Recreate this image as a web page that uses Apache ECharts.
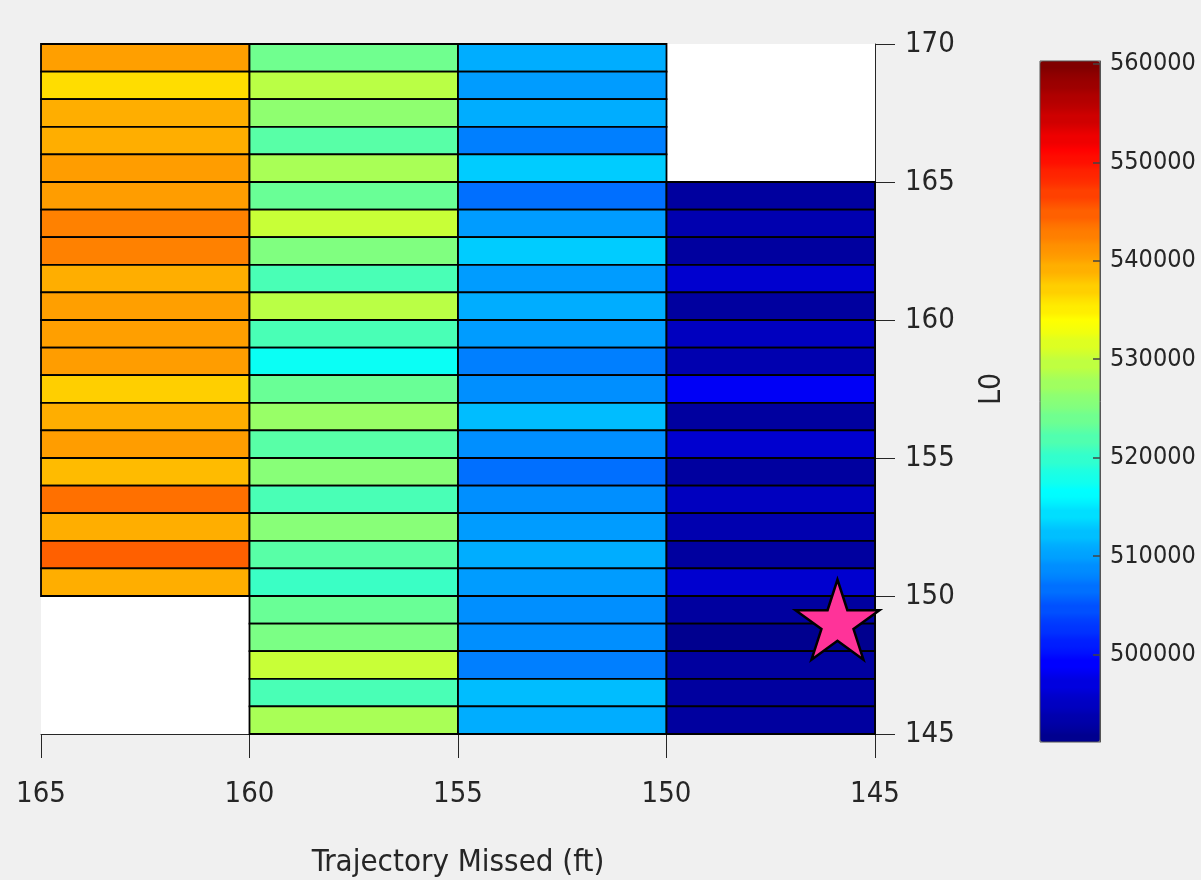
<!DOCTYPE html>
<html><head><meta charset="utf-8">
<script src="https://cdn.jsdelivr.net/npm/echarts@6/dist/echarts.min.js"></script>
<style>html,body{margin:0;padding:0;background:#f0f0f0;} #chart{width:1201px;height:880px;}</style>
</head><body><div id="chart"></div>
<script>
// ---- data ----
const xTicks = [165, 160, 155, 150, 145];          // Trajectory Missed (ft)
const yTicks = [145, 150, 155, 160, 165, 170];     // L0
const colorbarTicks = [500000, 510000, 520000, 530000, 540000, 550000, 560000];
const colorRange = [491100, 560300];
// column x-extents (ft)
const columns = [[165, 160], [160, 155], [155, 150], [150, 145]];
// top L0 of each column (cells are 1 unit tall, listed top to bottom)
const columnTop = [170, 170, 170, 165];
const col165_160 = [540400, 536450, 539700, 539700, 540800, 540800, 542100, 542100, 539700, 540400,
                    540400, 540800, 537500, 539700, 540800, 538650, 543500, 539700, 544400, 539700];
const col160_155 = [523970, 529000, 526570, 522450, 527900, 523550, 530060, 525470, 521370, 529000,
                    521370, 517050, 523550, 526800, 522450, 525700, 521370, 525700, 522450, 520300,
                    523550, 524660, 530060, 521370, 527900];
const col155_150 = [510600, 509500, 510600, 507360, 512760, 506280, 509500, 512760, 509500, 510600,
                    509500, 507360, 508960, 511690, 508960, 506280, 508960, 509500, 510600, 509500,
                    508960, 508960, 507360, 511690, 510600];
const col150_145 = [492220, 493300, 492220, 495460, 492220, 494390, 493300, 498550, 492220, 495460,
                    492220, 494390, 493300, 492900, 495460, 492220, 491800, 492220, 492700, 492220];
const columnValues = [col165_160, col160_155, col155_150, col150_145];
const starPoint = [[145.9, 149]];

// ---- jet colormap (MATLAB jet(64)) ----
function jet(n) {
  const m = Math.ceil(n / 4);
  const u = [];
  for (let i = 1; i <= m; i++) u.push(i / m);
  for (let i = 1; i < m; i++) u.push(1);
  for (let i = m; i >= 1; i--) u.push(i / m);
  const J = Array.from({length: n}, () => [0, 0, 0]);
  const g0 = Math.ceil(n / 8) - (n % 4 === 1 ? 1 : 0);
  const g = [], r = [], b = [];
  for (let k = 1; k <= u.length; k++) {
    const gi = g0 + k;
    if (gi <= n) g.push(gi);
    if (gi + n / 4 <= n) r.push(gi + n / 4);
    if (gi - n / 4 >= 1) b.push(gi - n / 4);
  }
  r.forEach((ri, i) => J[ri - 1][0] = u[i]);
  g.forEach((gi, i) => J[gi - 1][1] = u[i]);
  b.forEach((bi, i) => J[bi - 1][2] = u[u.length - b.length + i]);
  return J.map(c => 'rgb(' + c.map(v => Math.round(v * 255)).join(',') + ')');
}
const jetColors = [];
jet(64).forEach(c => { for (let k = 0; k < 4; k++) jetColors.push(c); });

// build cells [xLeft, xRight, yLow, yHigh, value]
const cells = [];
columns.forEach((col, ci) => {
  columnValues[ci].forEach((v, ri) => {
    const top = columnTop[ci] - ri;
    cells.push([col[0], col[1], top - 1, top, v]);
  });
});

const FONT = "'Liberation Sans Narrow','Arial Narrow','DejaVu Sans Condensed',sans-serif";
const AX = '#262626';
const STAR = 'path://M50 0 L61.23 34.55 L97.55 34.55 L68.17 55.9 L79.39 90.45 L50 69.1 L20.61 90.45 L31.83 55.9 L2.45 34.55 L38.77 34.55 Z';

const chart = echarts.init(document.getElementById('chart'));
chart.setOption({
  backgroundColor: '#f0f0f0',
  animation: false,
  grid: [
    {left: 41, top: 44, width: 834, height: 690, show: true, backgroundColor: '#ffffff', borderWidth: 0,
     containLabel: false, outerBoundsMode: 'none'},
    {left: 1040, top: 61, width: 60, height: 681, show: true, backgroundColor: 'transparent',
     borderColor: '#555', borderWidth: 1, z: 10, containLabel: false, outerBoundsMode: 'none'}
  ],
  xAxis: [
    {type: 'value', gridIndex: 0, min: 145, max: 165, interval: 5, inverse: true,
     axisLine: {show: true, onZero: false, lineStyle: {color: AX, width: 1}},
     axisTick: {show: true, inside: false, length: 24, lineStyle: {color: AX}},
     axisLabel: {fontSize: 29, fontFamily: FONT, color: AX, margin: 46},
     splitLine: {show: false},
     name: 'Trajectory Missed (ft)', nameLocation: 'middle', nameGap: 113,
     nameTextStyle: {fontSize: 31, fontFamily: FONT, color: AX}},
    {type: 'value', gridIndex: 1, min: 0, max: 1, show: false}
  ],
  yAxis: [
    {type: 'value', gridIndex: 0, position: 'right', min: 145, max: 170, interval: 5,
     axisLine: {show: true, onZero: false, lineStyle: {color: AX, width: 1}},
     axisTick: {show: true, inside: false, length: 20, lineStyle: {color: AX}},
     axisLabel: {fontSize: 29, fontFamily: FONT, color: AX, margin: 30},
     splitLine: {show: false},
     name: 'L0', nameLocation: 'middle', nameRotate: 90, nameGap: 102,
     nameTextStyle: {fontSize: 30, fontFamily: FONT, color: AX}},
    {type: 'value', gridIndex: 1, position: 'right', min: colorRange[0], max: colorRange[1], z: 10,
     axisLine: {show: true, onZero: false, lineStyle: {color: '#555', width: 1}},
     axisTick: {show: true, inside: true, length: 7, lineStyle: {color: '#444', width: 1.5}, customValues: colorbarTicks},
     axisLabel: {fontSize: 25, fontFamily: FONT, color: AX, margin: 10, customValues: colorbarTicks,
                 formatter: function (v) { return String(v); }},
     splitLine: {show: false}}
  ],
  visualMap: {
    type: 'continuous', min: colorRange[0], max: colorRange[1], dimension: 4, seriesIndex: 0,
    orient: 'vertical', left: 1040, top: 61, itemWidth: 60, itemHeight: 681, padding: 0,
    calculable: false, hoverLink: false, text: null, showLabel: false,
    inRange: {color: jetColors}
  },
  series: [
    {type: 'custom', xAxisIndex: 0, yAxisIndex: 0, data: cells,
     encode: {x: [0, 1], y: [2, 3]},
     renderItem: function (params, api) {
       const p0 = api.coord([api.value(0), api.value(3)]);
       const p1 = api.coord([api.value(1), api.value(2)]);
       return {type: 'rect',
         shape: {x: Math.min(p0[0], p1[0]), y: Math.min(p0[1], p1[1]),
                 width: Math.abs(p1[0] - p0[0]), height: Math.abs(p1[1] - p0[1])},
         style: {fill: api.visual('color'), stroke: '#000', lineWidth: 1.8}};
     }},
    {type: 'scatter', xAxisIndex: 0, yAxisIndex: 0, data: starPoint, z: 5,
     symbol: STAR, symbolSize: [84, 80], symbolOffset: [0, -4],
     itemStyle: {color: '#ff3399', borderColor: '#000', borderWidth: 2.5, opacity: 1}},
    {type: 'scatter', xAxisIndex: 1, yAxisIndex: 1, data: []}
  ]
});
</script></body></html>
